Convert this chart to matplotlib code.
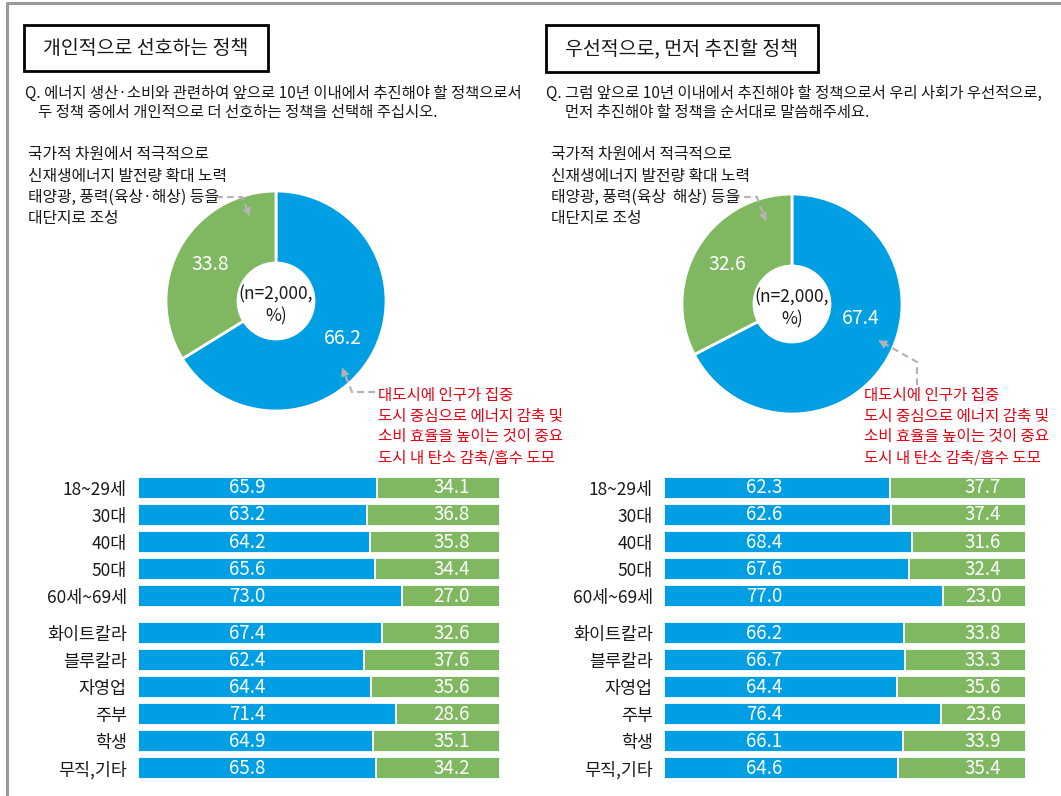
import matplotlib
matplotlib.use("Agg")
import matplotlib.pyplot as plt
from matplotlib.patches import Rectangle, FancyArrowPatch
import numpy as np

plt.rcParams['font.family'] = ['Noto Sans CJK KR', 'DejaVu Sans']

# ---------------- data ----------------
left_title = "개인적으로 선호하는 정책"
right_title = "우선적으로, 먼저 추진할 정책"
left_question = ["Q. 에너지 생산·소비와 관련하여 앞으로 10년 이내에서 추진해야 할 정책으로서",
                 "두 정책 중에서 개인적으로 더 선호하는 정책을 선택해 주십시오."]
right_question = ["Q. 그럼 앞으로 10년 이내에서 추진해야 할 정책으로서 우리 사회가 우선적으로,",
                  "먼저 추진해야 할 정책을 순서대로 말씀해주세요."]
green_note_left = ["국가적 차원에서 적극적으로", "신재생에너지 발전량 확대 노력",
                   "태양광, 풍력(육상·해상) 등을", "대단지로 조성"]
green_note_right = ["국가적 차원에서 적극적으로", "신재생에너지 발전량 확대 노력",
                    "태양광, 풍력(육상  해상) 등을", "대단지로 조성"]
blue_note = ["대도시에 인구가 집중", "도시 중심으로 에너지 감축 및",
             "소비 효율을 높이는 것이 중요", "도시 내 탄소 감축/흡수 도모"]
center_label = "(n=2,000,\n%)"

left_pie = [66.2, 33.8]    # blue (도시 중심), green (신재생 대단지)
right_pie = [67.4, 32.6]

age_groups = ["18~29세", "30대", "40대", "50대", "60세~69세"]
jobs = ["화이트칼라", "블루칼라", "자영업", "주부", "학생", "무직,기타"]

left_blue = [65.9, 63.2, 64.2, 65.6, 73.0, 67.4, 62.4, 64.4, 71.4, 64.9, 65.8]
left_green = [34.1, 36.8, 35.8, 34.4, 27.0, 32.6, 37.6, 35.6, 28.6, 35.1, 34.2]
right_blue = [62.3, 62.6, 68.4, 67.6, 77.0, 66.2, 66.7, 64.4, 76.4, 66.1, 64.6]
right_green = [37.7, 37.4, 31.6, 32.4, 23.0, 33.8, 33.3, 35.6, 23.6, 33.9, 35.4]

# ---------------- style ----------------
BLUE = "#009fe3"
GREEN = "#80b862"
RED = "#e60012"
ARROW = "#b4b4b4"
TXT = "#1a1a1a"

W, H = 1061, 796
fig = plt.figure(figsize=(W / 100, H / 100), dpi=100)
fig.patch.set_facecolor("white")


def px_axes(x0, y0, x1, y1, **kw):
    return fig.add_axes([x0 / W, 1 - y1 / H, (x1 - x0) / W, (y1 - y0) / H], **kw)


# overlay for annotations
ov = px_axes(0, 0, W, H)
ov.set_xlim(0, W)
ov.set_ylim(H, 0)
ov.axis("off")
ov.set_zorder(10)
ov.patch.set_alpha(0)

# outer frame
ov.plot([7, 7, W + 5], [H + 5, 3, 3], color="#9a9a9a", lw=2.2, solid_capstyle="butt")


def donut(cx, cy, values, label_angles=None, label_r=0.70):
    R, r_in = 110, 38
    ax = px_axes(cx - R, cy - R, cx + R, cy + R)
    wedges, _ = ax.pie(values, colors=[BLUE, GREEN], startangle=90, counterclock=False,
                       radius=1, wedgeprops=dict(width=(R - r_in) / R, edgecolor="white",
                                                 linewidth=2))
    ax.set_xlim(-1, 1)
    ax.set_ylim(-1, 1)
    for i, (w, v) in enumerate(zip(wedges, values)):
        ang = (w.theta1 + w.theta2) / 2
        if label_angles is not None and label_angles[i] is not None:
            ang = label_angles[i]
        rr = label_r[i] if isinstance(label_r, (list, tuple)) else label_r
        ax.text(rr * np.cos(np.radians(ang)), rr * np.sin(np.radians(ang)), f"{v:.1f}",
                ha="center", va="center", color="white", fontsize=14)
    ax.text(0, -0.04, center_label, ha="center", va="center", color=TXT, fontsize=12.5,
            linespacing=1.2)
    return ax


donut(276, 301, left_pie, label_r=[0.70, 0.68])
donut(792, 304, right_pie, label_angles=[-12, None], label_r=[0.64, 0.69])


def bars(x0, x1, blue, green, blue_x, green_x):
    ax = px_axes(x0, 475, x1, 781)
    n1 = len(age_groups)
    gap = 0.37
    pos = [i for i in range(n1)] + [n1 + gap + i for i in range(len(jobs))]
    labels = age_groups + jobs
    h = 0.80
    ax.barh(pos, blue, height=h, color=BLUE, edgecolor="white", linewidth=1.3)
    ax.barh(pos, green, left=blue, height=h, color=GREEN, edgecolor="white", linewidth=1.3)
    for p, b, g in zip(pos, blue, green):
        ax.text(blue_x, p, f"{b:.1f}", ha="center", va="center", color="white", fontsize=13.5)
        ax.text(green_x, p, f"{g:.1f}", ha="center", va="center", color="white", fontsize=13.5)
    ax.set_xlim(0, 100)
    ax.set_ylim(10.85, -0.481)
    ax.set_yticks(pos)
    ax.set_yticklabels(labels, fontsize=12.5, color=TXT)
    ax.tick_params(axis="y", length=0, pad=8)
    ax.set_xticks([])
    for s in ax.spines.values():
        s.set_visible(False)
    return ax


bars(138, 500, left_blue, left_green, 30.1, 86.7)
bars(664, 1026, right_blue, right_green, 27.6, 88.1)

# titles
for (x0, y0, x1, y1), t in [((24, 25, 268, 71), left_title), ((546, 25, 818, 72), right_title)]:
    ov.add_patch(Rectangle((x0, y0), x1 - x0, y1 - y0, fill=False, edgecolor="black", lw=2))
    ov.text((x0 + x1) / 2, (y0 + y1) / 2, t, ha="center", va="center", fontsize=14, color=TXT)

# questions
QF = 11.1
ov.text(25, 93, left_question[0], ha="left", va="center", fontsize=QF, color=TXT)
ov.text(38, 113, left_question[1], ha="left", va="center", fontsize=QF, color=TXT)
ov.text(546, 93, right_question[0], ha="left", va="center", fontsize=QF, color=TXT)
ov.text(565, 113, right_question[1], ha="left", va="center", fontsize=QF, color=TXT)

# notes
NF = 11.4
for k, line in enumerate(green_note_left):
    ov.text(28, 155 + 21 * k, line, ha="left", va="center", fontsize=NF, color=TXT)
for k, line in enumerate(green_note_right):
    ov.text(551, 155 + 21 * k, line, ha="left", va="center", fontsize=NF, color=TXT)
for k, line in enumerate(blue_note):
    ov.text(378, 395 + 21 * k, line, ha="left", va="center", fontsize=11.2, color=RED)
    ov.text(864, 395 + 21 * k, line, ha="left", va="center", fontsize=11.2, color=RED)


def dashed_arrow(pts):
    xs = [p[0] for p in pts]
    ys = [p[1] for p in pts]
    (xa, ya), (xb, yb) = pts[-2], pts[-1]
    d = np.hypot(xb - xa, yb - ya)
    ux, uy = (xb - xa) / d, (yb - ya) / d
    hx, hy = xb - ux * 10, yb - uy * 10
    ov.plot(xs[:-1] + [hx], ys[:-1] + [hy], color=ARROW, lw=1.6, ls=(0, (3, 2)))
    ov.add_patch(FancyArrowPatch((hx - ux * 2, hy - uy * 2), (xb, yb), arrowstyle="-|>",
                                 mutation_scale=14, color=ARROW, lw=0.5))


dashed_arrow([(216, 197), (242, 197), (251, 219)])
dashed_arrow([(375, 392), (352, 392), (341, 365)])
dashed_arrow([(733, 197), (757, 197), (767, 224)])
dashed_arrow([(917, 385), (917, 362), (876, 339)])

fig.savefig("out.png", dpi=100, facecolor="white")
